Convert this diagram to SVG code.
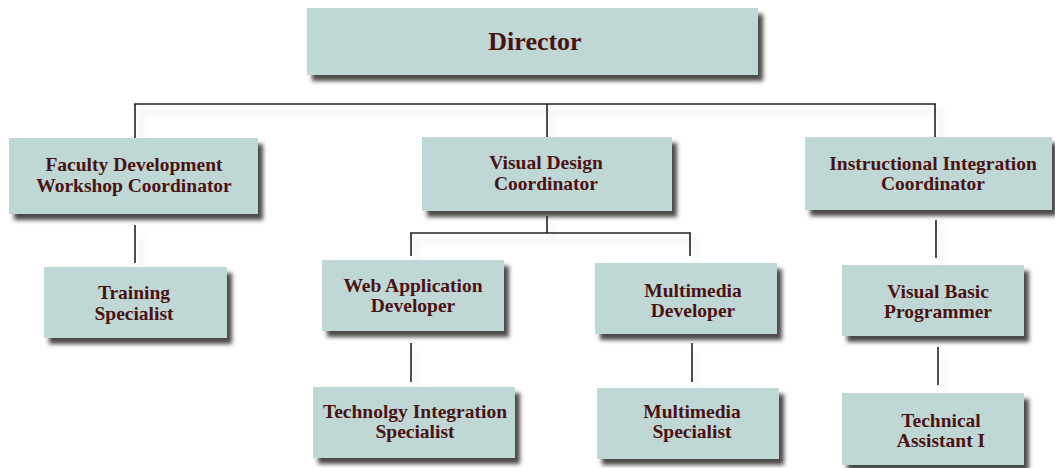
<svg xmlns="http://www.w3.org/2000/svg" width="1055" height="468" viewBox="0 0 1055 468">
<defs>
<filter id="sh" x="-10%" y="-20%" width="130%" height="160%">
<feDropShadow dx="5" dy="6" stdDeviation="2" flood-color="#2a2a2a" flood-opacity="0.85"/>
</filter>
<filter id="lsh" x="-10%" y="-50%" width="130%" height="250%">
<feDropShadow dx="6" dy="8" stdDeviation="3" flood-color="#000" flood-opacity="0.12"/>
</filter>
<style>
.box{fill:#bfd8d6;filter:url(#sh);}
.t{font-family:"Liberation Serif","Times New Roman",serif;font-weight:bold;font-size:19.5px;fill:#4a1212;text-anchor:middle;}
.big{font-size:26px;}
.c line{stroke:#222;stroke-width:1.6;}
</style>
</defs>
<rect width="1055" height="468" fill="#ffffff"/>
<g class="c" id="connectors" filter="url(#lsh)">
<line x1="134" y1="104" x2="936" y2="104"/>
<line x1="135" y1="104" x2="135" y2="138"/>
<line x1="547" y1="104" x2="547" y2="137"/>
<line x1="935" y1="104" x2="935" y2="137"/>
<line x1="135" y1="225" x2="135" y2="263"/>
<line x1="547" y1="216" x2="547" y2="233"/>
<line x1="410" y1="233" x2="691" y2="233"/>
<line x1="411" y1="233" x2="411" y2="256"/>
<line x1="690" y1="233" x2="690" y2="256"/>
<line x1="411" y1="343" x2="411" y2="382"/>
<line x1="692" y1="343" x2="692" y2="382"/>
<line x1="936" y1="220" x2="936" y2="258"/>
<line x1="938" y1="347" x2="938" y2="385"/>
</g>
<g id="director">
<rect class="box" x="307" y="8" width="451" height="67"/>
<text class="t big" x="535" y="50">Director</text>
</g>
<g id="faculty">
<rect class="box" x="9" y="138" width="249" height="76"/>
<text class="t" x="134" y="171">Faculty Development</text>
<text class="t" x="134" y="192">Workshop Coordinator</text>
</g>
<g id="visual-design">
<rect class="box" x="422" y="137" width="250" height="74"/>
<text class="t" x="546" y="169">Visual Design</text>
<text class="t" x="546" y="190">Coordinator</text>
</g>
<g id="instructional">
<rect class="box" x="805" y="137" width="247" height="73"/>
<text class="t" x="933" y="170">Instructional Integration</text>
<text class="t" x="933" y="190">Coordinator</text>
</g>
<g id="training">
<rect class="box" x="44" y="267" width="183" height="71"/>
<text class="t" x="134" y="299">Training</text>
<text class="t" x="134" y="320">Specialist</text>
</g>
<g id="web-app">
<rect class="box" x="322" y="260" width="182" height="71"/>
<text class="t" x="413" y="292">Web Application</text>
<text class="t" x="413" y="312">Developer</text>
</g>
<g id="mm-dev">
<rect class="box" x="595" y="263" width="182" height="71"/>
<text class="t" x="693" y="297">Multimedia</text>
<text class="t" x="693" y="317">Developer</text>
</g>
<g id="vb">
<rect class="box" x="842" y="265" width="182" height="71"/>
<text class="t" x="938" y="298">Visual Basic</text>
<text class="t" x="938" y="318">Programmer</text>
</g>
<g id="tech-int">
<rect class="box" x="313" y="387" width="202" height="71"/>
<text class="t" x="415" y="418">Technolgy Integration</text>
<text class="t" x="415" y="438">Specialist</text>
</g>
<g id="mm-spec">
<rect class="box" x="597" y="388" width="182" height="71"/>
<text class="t" x="692" y="418">Multimedia</text>
<text class="t" x="692" y="438">Specialist</text>
</g>
<g id="tech-asst">
<rect class="box" x="842" y="393" width="182" height="72"/>
<text class="t" x="941" y="427">Technical</text>
<text class="t" x="941" y="447">Assistant I</text>
</g>
</svg>
